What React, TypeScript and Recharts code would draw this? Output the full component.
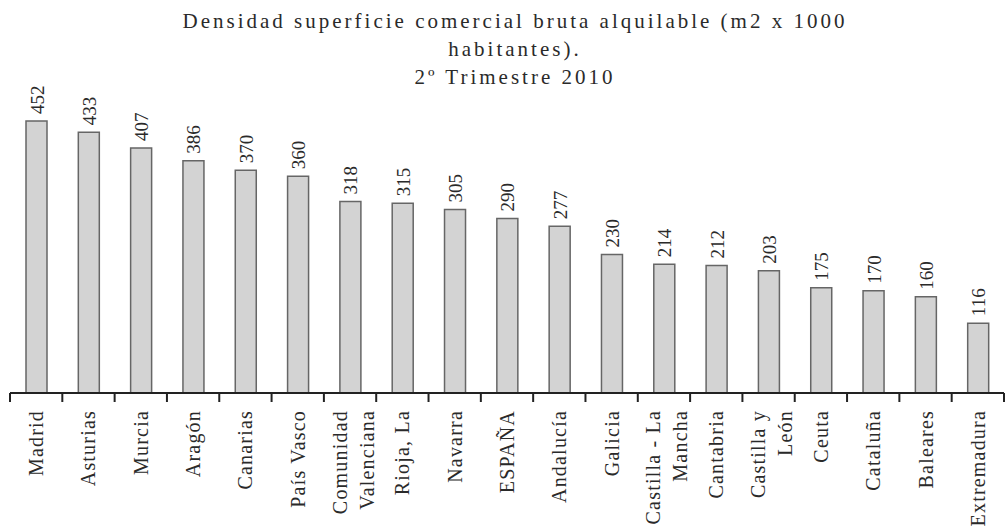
import React from 'react';
import { BarChart, Bar, XAxis, YAxis, LabelList } from 'recharts';

const regions = [
  'Madrid',
  'Asturias',
  'Murcia',
  'Aragón',
  'Canarias',
  'País Vasco',
  'Comunidad\nValenciana',
  'Rioja, La',
  'Navarra',
  'ESPAÑA',
  'Andalucía',
  'Galicia',
  'Castilla - La\nMancha',
  'Cantabria',
  'Castilla y\nLeón',
  'Ceuta',
  'Cataluña',
  'Baleares',
  'Extremadura',
];

const density = [452, 433, 407, 386, 370, 360, 318, 315, 305, 290, 277, 230, 214, 212, 203, 175, 170, 160, 116];

const titleLines = [
  'Densidad superficie comercial bruta alquilable (m2 x 1000',
  'habitantes).',
  '2º Trimestre 2010',
];

const W = 1006;
const H = 530;
const LEFT = 10;
const RIGHT = 2;
const STEP = (W - LEFT - RIGHT) / regions.length;
const FONT = '"Liberation Serif", "DejaVu Serif", serif';

const data = regions.map((name, i) => ({ name, value: density[i] }));

function RegionTick(props: any) {
  const { x, y, payload, index } = props;
  const lines = String(payload.value).split('\n');
  const lh = 27;
  const isLast = index === regions.length - 1;
  return (
    <g>
      <line x1={x - STEP / 2} x2={x - STEP / 2} y1={y} y2={y + 9} stroke="#222" strokeWidth={2} />
      {isLast && <line x1={x + STEP / 2} x2={x + STEP / 2} y1={y} y2={y + 9} stroke="#222" strokeWidth={2} />}
      <text
        transform={`translate(${x + (lines.length > 1 ? 3 : 0)},${y + 17}) rotate(-90)`}
        textAnchor="end"
        fontFamily={FONT}
        fontSize={20}
        letterSpacing={1.2}
        fill="#2a2a2a"
      >
        {lines.map((l, j) => (
          <tspan key={j} x={0} dy={j === 0 ? 7 - ((lines.length - 1) / 2) * lh : lh}>
            {l}
          </tspan>
        ))}
      </text>
    </g>
  );
}

function ValueLabel(props: any) {
  const { x, y, width, value } = props;
  const cx = x + width / 2;
  return (
    <text
      transform={`translate(${cx},${y - 7}) rotate(-90)`}
      textAnchor="start"
      fontFamily={FONT}
      fontSize={19}
      fill="#2a2a2a"
    >
      <tspan x={0} dy={7}>{value}</tspan>
    </text>
  );
}

export default function App() {
  return (
    <div style={{ position: 'relative', width: W, height: H, background: '#fff' }}>
      <style>{'body{margin:0}'}</style>
      <div
        style={{
          position: 'absolute',
          left: 0,
          top: 7,
          width: 1030,
          textAlign: 'center',
          fontFamily: FONT,
          fontSize: 21,
          lineHeight: '28px',
          letterSpacing: 3,
          color: '#2a2a2a',
        }}
      >
        {titleLines.map((t) => (
          <div key={t}>{t}</div>
        ))}
      </div>
      <BarChart
        width={W}
        height={H}
        data={data}
        margin={{ top: 92, right: RIGHT, left: LEFT, bottom: 0 }}
        barSize={21}
      >
        <YAxis hide domain={[0, 500]} />
        <XAxis
          dataKey="name"
          interval={0}
          height={137}
          tickSize={0}
          tickMargin={0}
          tickLine={false}
          axisLine={{ stroke: '#222', strokeWidth: 2 }}
          tick={<RegionTick />}
        />
        <Bar dataKey="value" fill="#d3d3d3" stroke="#666" strokeWidth={1.5} isAnimationActive={false}>
          <LabelList dataKey="value" content={<ValueLabel />} />
        </Bar>
      </BarChart>
    </div>
  );
}
